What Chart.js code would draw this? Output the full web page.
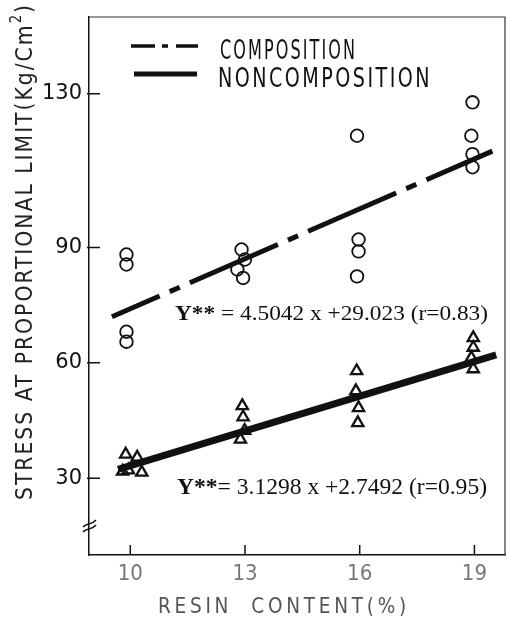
<!DOCTYPE html>
<html>
<head>
<meta charset="utf-8">
<script src="https://cdn.jsdelivr.net/npm/chart.js@4.4.1/dist/chart.umd.min.js"></script>
<style>
  html, body { margin: 0; padding: 0; background: #fff; }
  #wrap { width: 507px; height: 623px; }
</style>
</head>
<body>
<div id="wrap"><canvas id="chartResina" width="507" height="623"></canvas></div>
<script>
/* ============================================================
   DATOS
============================================================ */
const xTicks = [10, 13, 16, 19];
const yTicks = [30, 60, 90, 130];

// COMPOSITION (circulos)
const compX = [9.9, 9.9, 9.9, 9.9, 12.91, 13.0, 12.8, 12.95, 15.93, 15.97, 15.97, 15.93, 18.95, 18.92, 18.95, 18.95];
const compY = [88.2, 85.6, 68.1, 65.5, 89.5, 86.9, 84.3, 82.1, 119.1, 92.1, 89.0, 82.5, 127.8, 119.1, 114.3, 110.9];

// NONCOMPOSITION (triangulos)
const nonX = [9.88, 10.18, 9.8, 9.95, 10.3, 12.93, 12.95, 12.99, 12.88, 15.92, 15.9, 15.97, 15.95, 18.97, 18.97, 18.92, 18.97];
const nonY = [36.2, 35.4, 31.8, 32.1, 31.5, 48.8, 45.9, 42.4, 40.1, 57.9, 52.7, 48.3, 44.4, 66.5, 64.0, 61.3, 58.4];

// rectas de regresion (extremos tal como se ven)
const compLineX = [9.52, 19.47];
const compLineY = [72.0, 115.1];
const nonLineX = [9.68, 19.57];
const nonLineY = [32.3, 62.1];

const legendLabels = ["COMPOSITION", "NONCOMPOSITION"];
const eqComp = ["Y**", " = 4.5042 x +29.023 (r=0.83)"];
const eqNon = ["Y**", "= 3.1298 x +2.7492 (r=0.95)"];
const yTitle = ["STRESS AT PROPORTIONAL LIMIT(Kg/Cm", "2", ")"];
const xTitle = "RESIN  CONTENT(%)";

const toPts = (xs, ys) => xs.map((x, i) => ({ x: x, y: ys[i] }));

/* ============================================================
   TEXTO AJUSTADO A UN ANCHO
============================================================ */
function fitText(ctx, text, x, y, w, font, spacing) {
    ctx.save();
    ctx.font = font;
    ctx.letterSpacing = (spacing || 0) + "px";
    const m = ctx.measureText(text).width;
    ctx.translate(x, y);
    ctx.scale(w / m, 1);
    ctx.textAlign = "left";
    ctx.textBaseline = "alphabetic";
    ctx.fillText(text, 0, 0);
    ctx.restore();
}

const SANS = "'DejaVu Sans Condensed', 'DejaVu Sans', sans-serif";
const TICKF = "'DejaVu Sans', sans-serif";
const SERIF = "'Liberation Serif', 'DejaVu Serif', serif";

/* ============================================================
   PLUGIN: fondo, marco, ticks internos, leyenda, textos
============================================================ */
const decoPlugin = {
    id: "deco",
    beforeDraw(chart) {
        const ctx = chart.ctx;
        ctx.save();
        ctx.fillStyle = "#fff";
        ctx.fillRect(0, 0, chart.width, chart.height);
        ctx.restore();
    },
    afterDraw(chart) {
        const ctx = chart.ctx;
        const a = chart.chartArea;
        const xs = chart.scales.x;
        const ys = chart.scales.y;

        ctx.save();
        // marco superior y derecho
        ctx.strokeStyle = "#333";
        ctx.lineWidth = 1.2;
        ctx.beginPath();
        ctx.moveTo(a.left, a.top);
        ctx.lineTo(a.right, a.top);
        ctx.lineTo(a.right, a.bottom);
        ctx.stroke();

        // ticks hacia adentro
        ctx.strokeStyle = "#111";
        ctx.lineWidth = 1.5;
        ctx.beginPath();
        yTicks.forEach(v => {
            const py = ys.getPixelForValue(v);
            ctx.moveTo(a.left - 2, py);
            ctx.lineTo(a.left + 11, py);
        });
        xTicks.forEach(v => {
            const px = xs.getPixelForValue(v);
            ctx.moveTo(px, a.bottom);
            ctx.lineTo(px, a.bottom - 10);
        });
        ctx.stroke();

        // corte del eje Y
        ctx.lineWidth = 1.6;
        ctx.beginPath();
        ctx.moveTo(a.left - 6, 527);
        ctx.bezierCurveTo(a.left - 2, 522, a.left + 2, 526, a.left + 7, 520);
        ctx.moveTo(a.left - 6, 532);
        ctx.bezierCurveTo(a.left - 2, 527, a.left + 2, 531, a.left + 7, 525);
        ctx.stroke();

        // leyenda
        ctx.strokeStyle = "#111";
        ctx.lineCap = "butt";
        ctx.lineWidth = 3.5;
        ctx.beginPath();
        ctx.moveTo(131, 46); ctx.lineTo(155, 46);
        ctx.moveTo(162, 46); ctx.lineTo(168, 46);
        ctx.moveTo(176, 46); ctx.lineTo(198, 46);
        ctx.stroke();
        ctx.lineWidth = 5;
        ctx.beginPath();
        ctx.moveTo(134, 74); ctx.lineTo(197, 74);
        ctx.stroke();

        ctx.fillStyle = "#111";
        fitText(ctx, legendLabels[0], 220, 59, 137, "26px " + SANS, 3);
        fitText(ctx, legendLabels[1], 218, 87, 214, "26px " + SANS, 3);

        // ecuaciones
        drawEq(ctx, eqComp, 175, 320, 313, 22);
        drawEq(ctx, eqNon, 177, 494, 310, 23);

        // titulo eje Y (rotado)
        ctx.save();
        ctx.translate(32, 500);
        ctx.rotate(-Math.PI / 2);
        ctx.fillStyle = "#222";
        ctx.letterSpacing = "2px";
        const fMain = "23px " + SANS;
        const fSup = "15px " + SANS;
        ctx.font = fMain;
        const w0 = ctx.measureText(yTitle[0]).width;
        const w2 = ctx.measureText(yTitle[2]).width;
        ctx.font = fSup;
        const w1 = ctx.measureText(yTitle[1]).width;
        const k = 497 / (w0 + w1 + w2);
        ctx.scale(k, 1);
        ctx.font = fMain;
        ctx.fillText(yTitle[0], 0, 0);
        ctx.font = fSup;
        ctx.fillText(yTitle[1], w0, -11);
        ctx.font = fMain;
        ctx.fillText(yTitle[2], w0 + w1, 0);
        ctx.restore();

        // titulo eje X
        ctx.fillStyle = "#555";
        fitText(ctx, xTitle, 158, 613, 252, "22px " + SANS, 4);

        ctx.restore();
    }
};

function drawEq(ctx, parts, x, y, w, size) {
    ctx.save();
    ctx.fillStyle = "#111";
    ctx.font = "bold " + size + "px " + SERIF;
    const wa = ctx.measureText(parts[0]).width;
    ctx.font = size + "px " + SERIF;
    const wb = ctx.measureText(parts[1]).width;
    ctx.translate(x, y);
    ctx.scale(w / (wa + wb), 1);
    ctx.font = "bold " + size + "px " + SERIF;
    ctx.fillText(parts[0], 0, 0);
    ctx.font = size + "px " + SERIF;
    ctx.fillText(parts[1], wa, 0);
    ctx.restore();
}

/* ============================================================
   GRAFICA
============================================================ */
const canvas = document.getElementById("chartResina");

new Chart(canvas, {
    type: "scatter",
    data: {
        datasets: [
            {
                label: "COMPOSITION",
                data: toPts(compX, compY),
                pointStyle: "circle",
                pointRadius: 6.3,
                borderColor: "#111",
                backgroundColor: "rgba(0,0,0,0)",
                borderWidth: 1.8
            },
            {
                label: "NONCOMPOSITION",
                data: toPts(nonX, nonY),
                pointStyle: "triangle",
                pointRadius: 6.5,
                borderColor: "#111",
                backgroundColor: "rgba(0,0,0,0)",
                borderWidth: 2.3
            },
            {
                label: "comp fit",
                type: "line",
                data: toPts(compLineX, compLineY),
                showLine: true,
                pointRadius: 0,
                borderColor: "#111",
                borderWidth: 5,
                borderCapStyle: "butt",
                borderDash: [96, 11, 11, 11],
                borderDashOffset: 44
            },
            {
                label: "noncomp fit",
                type: "line",
                data: toPts(nonLineX, nonLineY),
                showLine: true,
                pointRadius: 0,
                borderColor: "#111",
                borderWidth: 7,
                borderCapStyle: "butt"
            }
        ]
    },
    options: {
        responsive: false,
        maintainAspectRatio: false,
        animation: false,
        layout: { autoPadding: false, padding: { top: 17, right: 2, left: 0, bottom: 0 } },
        plugins: {
            legend: { display: false },
            tooltip: { enabled: false }
        },
        scales: {
            x: {
                type: "linear",
                min: 8.92,
                max: 19.8,
                afterBuildTicks: s => { s.ticks = xTicks.map(v => ({ value: v })); },
                afterFit: s => { s.height = 68; s.paddingLeft = 0; s.paddingRight = 0; },
                grid: { display: false, drawTicks: false },
                border: { display: true, color: "#111", width: 1.5 },
                ticks: {
                    padding: 6,
                    color: "#777",
                    font: { family: SANS, size: 22 }
                }
            },
            y: {
                type: "linear",
                min: 10,
                max: 150,
                afterBuildTicks: s => { s.ticks = yTicks.map(v => ({ value: v })); },
                afterFit: s => { s.width = 89; s.paddingTop = 0; s.paddingBottom = 0; },
                grid: { display: false, drawTicks: false },
                border: { display: true, color: "#111", width: 1.5 },
                ticks: {
                    padding: 7,
                    color: "#111",
                    font: { family: TICKF, size: 21 }
                }
            }
        }
    },
    plugins: [decoPlugin]
});
</script>
</body>
</html>
